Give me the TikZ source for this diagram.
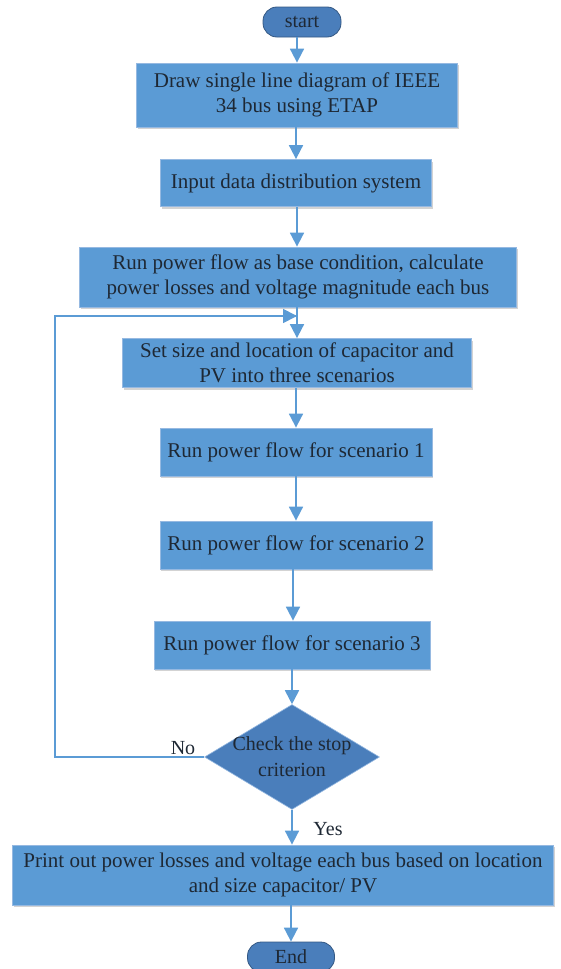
\documentclass[tikz,border=0pt]{standalone}
\usepackage{fontspec}
\setmainfont{Liberation Serif}
\usetikzlibrary{shapes.geometric,arrows.meta,shadows}
\definecolor{boxblue}{RGB}{91,155,213}
\definecolor{darkblue}{RGB}{74,126,187}
\definecolor{edgeblue}{RGB}{150,185,225}
\definecolor{txt}{RGB}{30,40,52}
\definecolor{lineblue}{RGB}{91,155,213}
\tikzset{
  procbox/.style={rectangle, fill=boxblue, draw=edgeblue, line width=0.8pt,
    align=center, text=txt, font=\fontsize{21}{25}\selectfont, inner sep=0pt,
    drop shadow={shadow xshift=1pt, shadow yshift=-2pt, opacity=0.35}},
  capsule/.style={rectangle, rounded corners=14pt, fill=darkblue, draw=darkblue!70!black,
    line width=0.8pt, text=txt, font=\fontsize{20}{24}\selectfont, inner sep=0pt},
  decide/.style={diamond, fill=darkblue, draw=edgeblue, line width=0.6pt, aspect=1.67,
    text=txt, align=center, font=\fontsize{20}{26}\selectfont, inner sep=-7pt,
    minimum width=175pt, minimum height=105pt},
  flow/.style={draw=lineblue, line width=1.8pt, -{Triangle[width=14pt,length=14pt]}},
  lbl/.style={text=txt, font=\fontsize{20}{24}\selectfont, inner sep=0pt}
}
\begin{document}
\begin{tikzpicture}[x=1pt,y=-1pt]
\useasboundingbox (0,0) rectangle (561,969);
\node[capsule, minimum width=78pt, minimum height=30pt] (start) at (302,22) {start};
\node[procbox, minimum width=321pt, minimum height=64pt] (b1) at (297,95) {Draw single line diagram of IEEE\\34 bus using ETAP};
\node[procbox, minimum width=271pt, minimum height=47pt] (b2) at (296,183) {Input data distribution system};
\node[procbox, minimum width=437pt, minimum height=60pt] (b3) at (298,277) {Run power flow as base condition, calculate\\power losses and voltage magnitude each bus};
\node[procbox, minimum width=349pt, minimum height=49pt] (b4) at (297,363) {Set size and location of capacitor and\\PV into three scenarios};
\node[procbox, minimum width=272pt, minimum height=48pt] (b5) at (296,452) {Run power flow for scenario 1};
\node[procbox, minimum width=272pt, minimum height=48pt] (b6) at (296,545) {Run power flow for scenario 2};
\node[procbox, minimum width=276pt, minimum height=48pt] (b7) at (292,645) {Run power flow for scenario 3};
\node[decide] (d) at (292,757) {Check the stop\\criterion};
\node[procbox, minimum width=541pt, minimum height=60pt] (b8) at (283,875) {Print out power losses and voltage each bus based on location\\and size capacitor/ PV};
\node[capsule, minimum width=87pt, minimum height=30pt] (end) at (291,957) {End};
\node[lbl] (no) at (183,748) {No};
\node[lbl] (yes) at (328,829) {Yes};
\coordinate (loopL) at (55,757);
\coordinate (loopT) at (55,316);
\coordinate (merge) at (297,316);
\draw[flow] (start.south -| 297,0) -- (b1.north -| 297,0);
\draw[flow] (b1.south -| 296,0) -- (b2.north -| 296,0);
\draw[flow] (b2.south -| 297,0) -- (b3.north -| 297,0);
\draw[flow] (b3.south -| 297,0) -- (b4.north -| 297,0);
\draw[flow] (b4.south -| 296,0) -- (b5.north -| 296,0);
\draw[flow] (b5.south -| 296,0) -- (b6.north -| 296,0);
\draw[flow] (b6.south -| 293,0) -- (b7.north -| 293,0);
\draw[flow] (b7.south -| 292,0) -- (d.north);
\draw[flow] (d.south) -- (b8.north -| 292,0);
\draw[flow] (b8.south -| 291,0) -- (end.north);
\draw[draw=lineblue, line width=1.6pt] (d.west) -- (loopL) -- (loopT) -- (merge);
\draw[flow] (loopT) -- (merge);
\end{tikzpicture}
\end{document}
